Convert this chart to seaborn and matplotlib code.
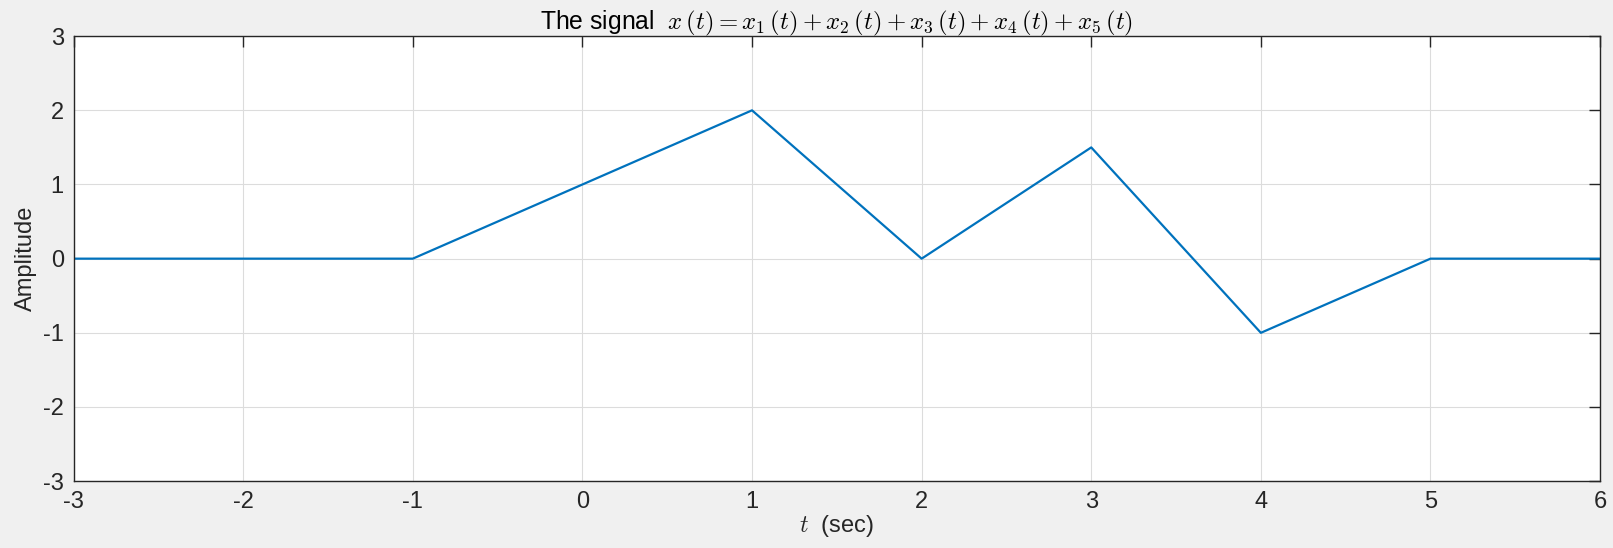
import numpy as np
import pandas as pd
import seaborn as sns
import matplotlib.pyplot as plt

# signal breakpoints
t = [-3, -1, 1, 2, 3, 4, 5, 6]
x = [0, 0, 2, 0, 1.5, -1, 0, 0]
xticks = [-3, -2, -1, 0, 1, 2, 3, 4, 5, 6]
yticks = [-3, -2, -1, 0, 1, 2, 3]

df = pd.DataFrame({"t": t, "x": x})

sns.set_style("white")
plt.rcParams['font.family'] = ['Liberation Sans', 'DejaVu Sans']
plt.rcParams['mathtext.fontset'] = 'cm'

fig = plt.figure(figsize=(16.13, 5.48), dpi=100, facecolor="#f0f0f0")
ax = fig.add_axes([0.0456, 0.122, 0.9464, 0.812])
ax.set_facecolor("white")

sns.lineplot(data=df, x="t", y="x", ax=ax, color="#0072BD", linewidth=1.6)

ax.set_xlim(-3, 6)
ax.set_ylim(-3, 3)
ax.set_xticks(xticks)
ax.set_yticks(yticks)
ax.set_xticklabels([str(v) for v in xticks])
ax.set_yticklabels([str(v) for v in yticks])
ax.grid(True, color="#dcdcdc", linewidth=0.8)
ax.tick_params(direction="in", length=8, width=1, colors="#262626",
               labelsize=17, top=True, right=True, pad=7)
for s in ax.spines.values():
    s.set_color("#262626")
    s.set_linewidth(1)

ax.set_xlabel(r"$t$  (sec)", fontsize=17, color="#262626", labelpad=0)
ax.set_ylabel("Amplitude", fontsize=17, color="#262626", labelpad=4)
ax.set_title(r"The signal  $x\,(t) = x_1\,(t) + x_2\,(t) + x_3\,(t) + x_4\,(t) + x_5\,(t)$",
             fontsize=17.8, color="black", pad=5)

fig.savefig("out.png", dpi=100, facecolor=fig.get_facecolor())
